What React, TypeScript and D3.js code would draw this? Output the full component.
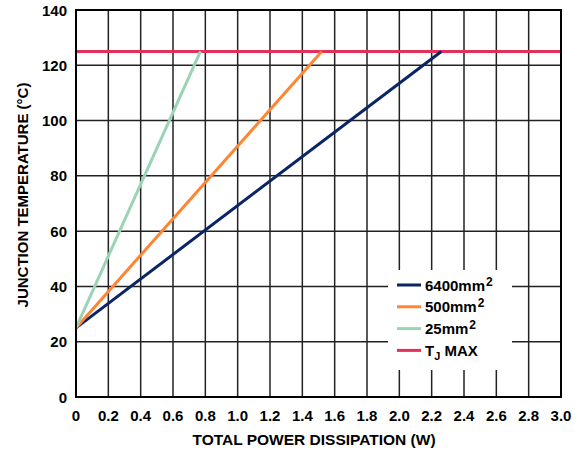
import React from "react";
import * as d3 from "d3";

const xTicks = [0, 0.2, 0.4, 0.6, 0.8, 1.0, 1.2, 1.4, 1.6, 1.8, 2.0, 2.2, 2.4, 2.6, 2.8, 3.0];
const yTicks = [0, 20, 40, 60, 80, 100, 120, 140];
const seriesNames = ["6400mm", "500mm", "25mm"];
const seriesColors = ["#0b2466", "#ff8533", "#9bd3b5"];
const series6400 = [[0, 25], [2.26, 125]];
const series500 = [[0, 25], [1.52, 125]];
const series25 = [[0, 25], [0.77, 125]];
const tjMax = 125;
const tjColor = "#e3305a";

export default function App() {
  const W = 581, H = 453;
  const m = { left: 76, right: 20, top: 10, bottom: 56 };
  const x = d3.scaleLinear().domain([0, 3]).range([m.left, W - m.right]);
  const y = d3.scaleLinear().domain([0, 140]).range([H - m.bottom, m.top]);
  const line = d3.line<number[]>().x(d => x(d[0])).y(d => y(d[1]));
  const all = [series6400, series500, series25];
  const font = "Liberation Sans, Arial, sans-serif";
  const lx = 388, ly = 270, lw = 124, lh = 100;
  const rows = [...seriesNames.map((n, i) => ({ n, c: seriesColors[i], sup: true })), { n: "TJ", c: tjColor, sup: false }];
  return (
    <svg width={W} height={H} style={{ position: "absolute", left: 0, top: 0 }} fontFamily={font}>
      <rect width={W} height={H} fill="#fff" />
      {xTicks.map(t => (
        <line key={"gx" + t} x1={x(t)} x2={x(t)} y1={y(0)} y2={y(140)} stroke="#222" strokeWidth={1.5} />
      ))}
      {yTicks.map(t => (
        <line key={"gy" + t} x1={x(0)} x2={x(3)} y1={y(t)} y2={y(t)} stroke="#222" strokeWidth={1.5} />
      ))}
      <rect x={lx} y={ly} width={lw} height={lh} fill="#fff" />
      <line x1={x(0)} x2={x(3)} y1={y(tjMax)} y2={y(tjMax)} stroke={tjColor} strokeWidth={3} />
      {all.map((s, i) => (
        <path key={i} d={line(s) || ""} fill="none" stroke={seriesColors[i]} strokeWidth={3} />
      ))}
      <rect x={x(0)} y={y(140)} width={x(3) - x(0)} height={y(0) - y(140)} fill="none" stroke="#000" strokeWidth={2} />
      {xTicks.map(t => (
        <text key={"tx" + t} x={x(t)} y={y(0) + 24} textAnchor="middle" fontSize={15} fontWeight="bold">
          {t === 0 ? "0" : t.toFixed(1)}
        </text>
      ))}
      {yTicks.map(t => (
        <text key={"ty" + t} x={x(0) - 9} y={y(t) + 5.5} textAnchor="end" fontSize={15} fontWeight="bold">
          {t}
        </text>
      ))}
      <text x={314} y={H - 8} textAnchor="middle" fontSize={15.5} fontWeight="bold">
        TOTAL POWER DISSIPATION (W)
      </text>
      <text transform={`translate(28,195) rotate(-90)`} textAnchor="middle" fontSize={15} fontWeight="bold">
        JUNCTION TEMPERATURE (°C)
      </text>
      {rows.map((r, i) => {
        const yy = ly + 15 + i * 21.8;
        return (
          <g key={r.n}>
            <line x1={397} x2={421} y1={yy} y2={yy} stroke={r.c} strokeWidth={3} />
            <text x={425} y={yy + 5.5} fontSize={15} fontWeight="bold">
              {r.sup ? (
                <>
                  {r.n}
                  <tspan dx={1} dy={-5} fontSize={12}>2</tspan>
                </>
              ) : (
                <>
                  T<tspan dy={4} fontSize={11}>J</tspan>
                  <tspan dy={-4}> MAX</tspan>
                </>
              )}
            </text>
          </g>
        );
      })}
    </svg>
  );
}
